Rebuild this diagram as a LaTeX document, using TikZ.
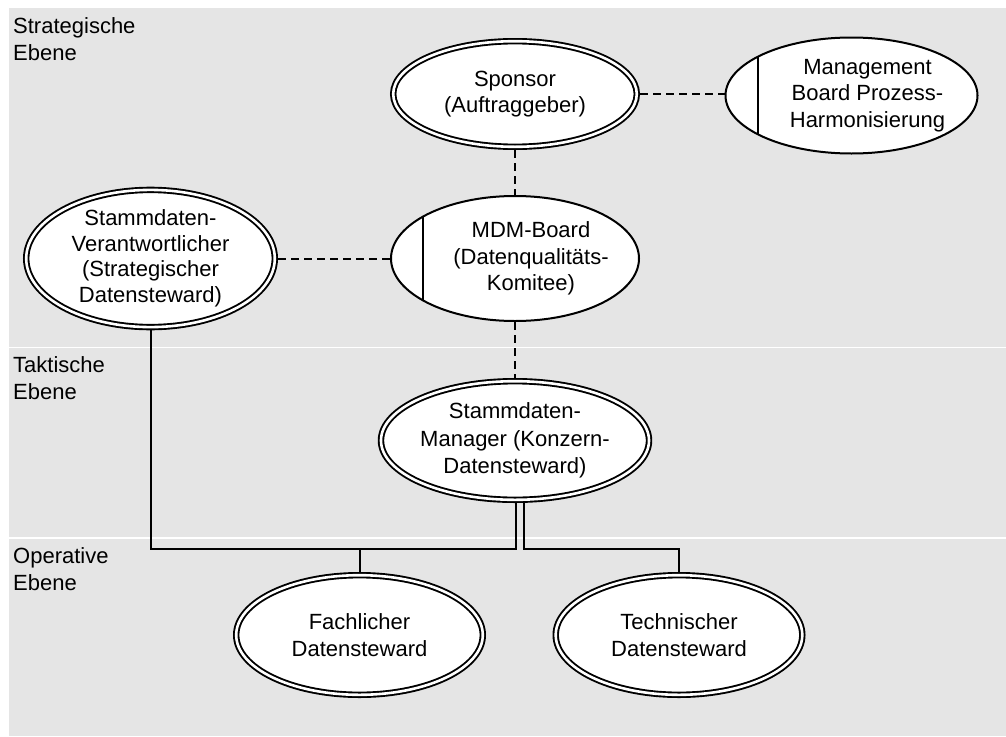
\documentclass[tikz,border=0pt]{standalone}
\usepackage{fontspec}
\setmainfont{Liberation Sans}
\usetikzlibrary{shapes.geometric}
\definecolor{bandgray}{RGB}{229,229,229}
\begin{document}
\begin{tikzpicture}[x=1pt,y=-1pt,
  every node/.style={font=\fontsize{22}{26.5}\selectfont, align=center, inner sep=0pt},
  levellabel/.style={anchor=base west, align=left, font=\fontsize{22}{27}\selectfont},
  role/.style={ellipse, draw, fill=white, line width=1.9pt, double, double distance=2.6pt,
               outer sep=3.2pt},
  board/.style={ellipse, draw, fill=white, line width=2pt, outer sep=1pt,
    path picture={\draw[line width=2pt]
      ([xshift=32pt]path picture bounding box.south west) --
      ([xshift=32pt]path picture bounding box.north west);}},
  dashline/.style={line width=2pt, dash pattern=on 8pt off 5pt},
  tree/.style={line width=2pt}
]
\useasboundingbox (0,0) rectangle (1006,736);

% level bands
\fill[bandgray] (9,8) rectangle (1006,736);
\draw[white, line width=1.2pt] (9,347.5) -- (1006,347.5);
\draw[white, line width=1.2pt] (9,538) -- (1006,538);

% level labels (anchored at the baseline of the second line)
\node[levellabel] (lvstrat) at (13,60) {Strategische\\Ebene};
\node[levellabel] (lvtakt) at (13,399) {Taktische\\Ebene};
\node[levellabel] (lvop) at (13,590) {Operative\\Ebene};

% roles and boards
\node[role, minimum width=243.6pt, minimum height=105.6pt] (sponsor) at (515,94)
  {Sponsor\\(Auftraggeber)};
\node[board, minimum width=252pt, minimum height=116pt] (mb) at (851.5,95.5) {};
\node (mbtext) at ([xshift=16pt]mb.center) {Management\\Board Prozess-\\Harmonisierung};
\node[role, minimum width=248.6pt, minimum height=120.6pt,
      font=\fontsize{22}{25.5}\selectfont] (verant) at (150.5,258.5)
  {Stammdaten-\\Verantwortlicher\\(Strategischer\\Datensteward)};
\node[board, minimum width=248pt, minimum height=125pt] (mdm) at (515,258.5) {};
\node (mdmtext) at ([xshift=16pt]mdm.center) {MDM-Board\\(Datenqualitäts-\\Komitee)};
\node[role, minimum width=241.6pt, minimum height=118.6pt,
      font=\fontsize{22}{27.5}\selectfont] (mgr) at (515,440.5)
  {Stammdaten-\\Manager (Konzern-\\Datensteward)};
\node[role, minimum width=246.6pt, minimum height=119.6pt] (fach) at (359.5,635)
  {Fachlicher\\Datensteward};
\node[role, minimum width=246.6pt, minimum height=119.6pt] (techn) at (679,635)
  {Technischer\\Datensteward};

% dashed relations
\draw[dashline] (sponsor.east) -- (sponsor.east -| mb.west);
\draw[dashline] (verant.east) -- (mdm.west);
\draw[dashline] (sponsor.south) -- (mdm.north);
\draw[dashline] (mdm.south) -- (mgr.north);

% reporting lines
\coordinate (jl) at (516,549);
\coordinate (jr) at (524,549);
\draw[tree] (verant.south) |- (jl) -- (jl |- mgr.south);
\draw[tree] (jr |- mgr.south) -- (jr) -| (techn.north);
\draw[tree] (fach.north) -- (fach.north |- jl);
\end{tikzpicture}
\end{document}
